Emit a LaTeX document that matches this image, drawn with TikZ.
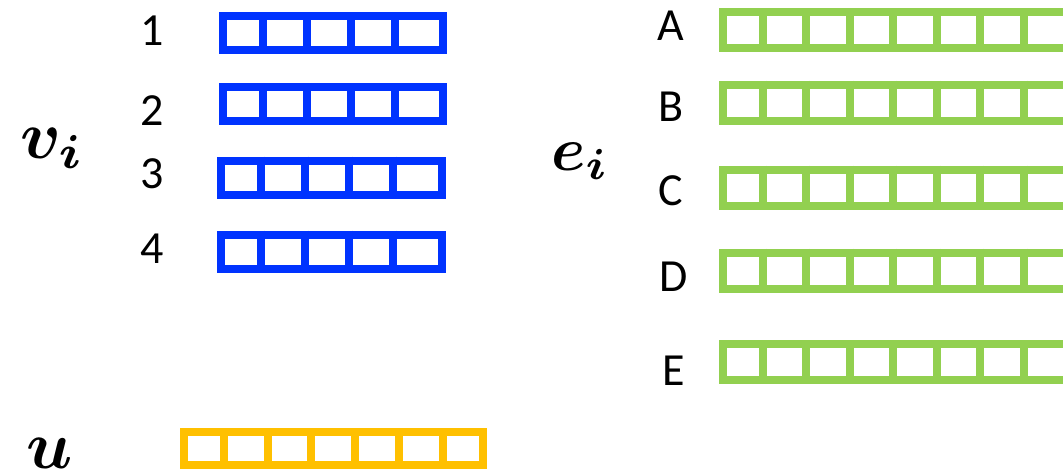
\documentclass[tikz,border=0pt]{standalone}
\usepackage{graphicx}
\usepackage{amsmath,bm}
\usepackage{fontspec}
\setmainfont{Carlito}
\definecolor{vblue}{HTML}{0033FF}
\definecolor{egreen}{HTML}{92D050}
\definecolor{ugold}{HTML}{FFC000}
\newcommand\drawcells[4]{% node, colour, pitch, dividers
  \foreach \k in {1,...,#4}
    \draw[#2, line width=8pt] ([xshift=\k*#3pt]#1.north west) -- ([xshift=\k*#3pt]#1.south west);}
\tikzset{
  lbl/.style={font=\fontsize{46}{50}\selectfont, anchor=base, inner sep=0pt},
  sym/.style={anchor=base west, inner sep=0pt},
  cellbox/.style={draw=#1, line width=8pt, rectangle, inner sep=0pt, minimum height=34pt},
}
\begin{document}
\begin{tikzpicture}[x=1pt,y=-1pt]
\useasboundingbox (0,0) rectangle (1063,469);
\clip (0,0) rectangle (1063,469);
% v_i vectors
\node[cellbox=vblue, minimum width=220pt] (v1) at (333,33) {};
\node[cellbox=vblue, minimum width=220pt] (v2) at (333,104) {};
\node[cellbox=vblue, minimum width=221pt] (v3) at (331.5,177.5) {};
\node[cellbox=vblue, minimum width=221pt] (v4) at (331.5,251.5) {};
\drawcells{v1}{vblue}{44}{4}
\drawcells{v2}{vblue}{44}{4}
\drawcells{v3}{vblue}{44}{4}
\drawcells{v4}{vblue}{44}{4}
\node[lbl] (n1) at (152,45) {1};
\node[lbl] (n2) at (152,125) {2};
\node[lbl] (n3) at (152,188) {3};
\node[lbl] (n4) at (152,263) {4};
\node[sym] (vi) at (20,158) {\scalebox{6.8}{$\bm{v}_{\bm{i}}$}};
% e_i vectors
\node[cellbox=egreen, minimum width=391.5pt, minimum height=36pt] (eA) at (918.75,30) {};
\node[cellbox=egreen, minimum width=391.5pt, minimum height=36pt] (eB) at (918.75,102.5) {};
\node[cellbox=egreen, minimum width=391.5pt, minimum height=36pt] (eC) at (918.75,187.5) {};
\node[cellbox=egreen, minimum width=391.5pt, minimum height=36pt] (eD) at (918.75,270.5) {};
\node[cellbox=egreen, minimum width=391.5pt, minimum height=36pt] (eE) at (918.75,362) {};
\drawcells{eA}{egreen}{43.5}{8}
\drawcells{eB}{egreen}{43.5}{8}
\drawcells{eC}{egreen}{43.5}{8}
\drawcells{eD}{egreen}{43.5}{8}
\drawcells{eE}{egreen}{43.5}{8}
\node[lbl] (lA) at (670.5,40) {A};
\node[lbl] (lB) at (671,121.5) {B};
\node[lbl] (lC) at (671,205) {C};
\node[lbl] (lD) at (674,291.5) {D};
\node[lbl] (lE) at (674,385) {E};
\node[sym] (ei) at (551,170) {\scalebox{6.2}{$\bm{e}_{\bm{i}}$}};
% u vector
\node[cellbox=ugold, minimum width=299pt, minimum height=33pt] (ub) at (333.5,448.5) {};
\drawcells{ub}{ugold}{43.8}{6}
\node[sym] (u) at (26,468) {\scalebox{6.8}{$\bm{u}$}};
\end{tikzpicture}
\end{document}
